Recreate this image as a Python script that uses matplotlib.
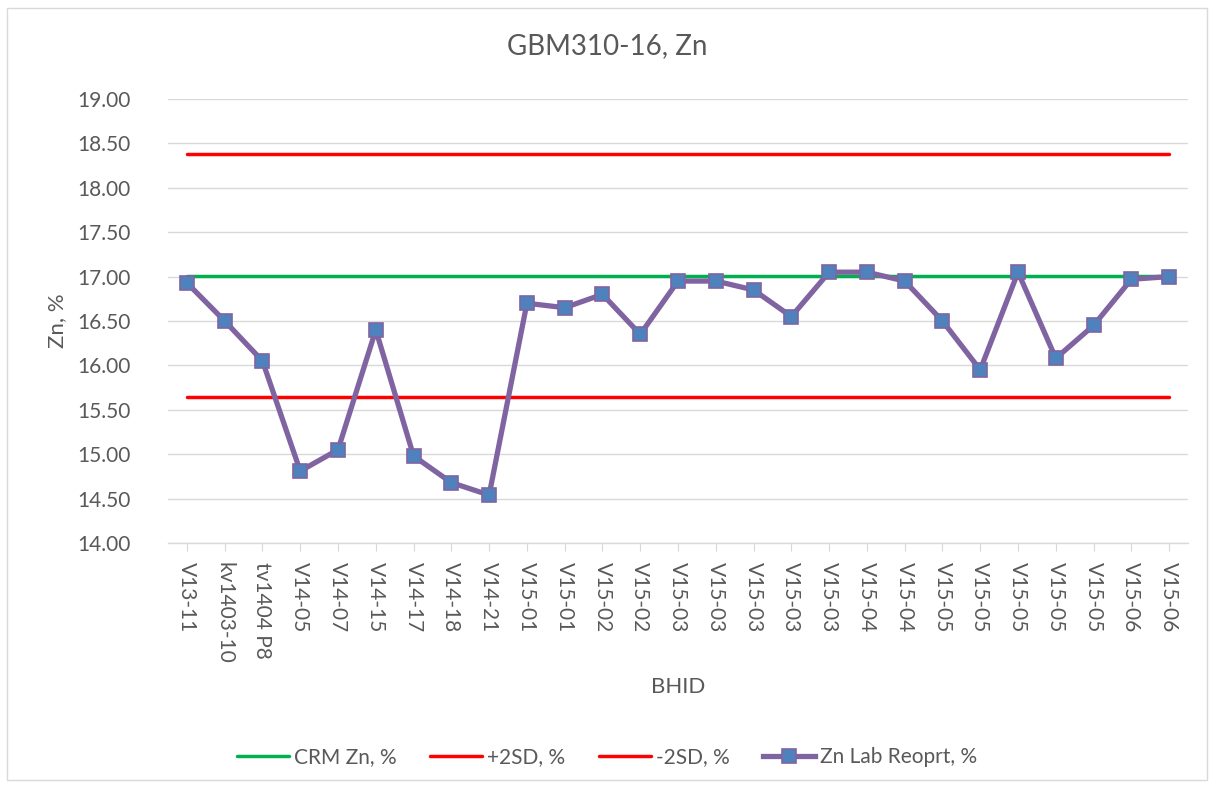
import matplotlib.pyplot as plt
from matplotlib.patches import Rectangle

plt.rcParams['font.family'] = ['Lato', 'DejaVu Sans']

bhid = ['V13-11', 'kv1403-10', 'tv1404 P8', 'V14-05', 'V14-07', 'V14-15', 'V14-17',
        'V14-18', 'V14-21', 'V15-01', 'V15-01', 'V15-02', 'V15-02', 'V15-03', 'V15-03',
        'V15-03', 'V15-03', 'V15-03', 'V15-04', 'V15-04', 'V15-05', 'V15-05', 'V15-05',
        'V15-05', 'V15-05', 'V15-06', 'V15-06']
zn_lab = [16.93, 16.50, 16.05, 14.81, 15.05, 16.40, 14.98, 14.68, 14.54, 16.70, 16.65,
          16.80, 16.35, 16.95, 16.95, 16.85, 16.55, 17.05, 17.05, 16.95, 16.50, 15.95,
          17.05, 16.08, 16.45, 16.97, 17.00]
crm = 17.01
plus_2sd = 18.38
minus_2sd = 15.64

grey = '#595959'
x = list(range(len(bhid)))

fig = plt.figure(figsize=(12.14, 7.89), dpi=100)
fig.patches.append(Rectangle((0.006, 0.012), 0.988, 0.978, transform=fig.transFigure,
                             fill=False, edgecolor='#d9d9d9', linewidth=1))
ax = fig.add_axes([0.1384, 0.3118, 0.8402, 0.5627])

ax.plot(x, [crm] * len(x), color='#00b050', lw=2.5, label='CRM Zn, %', solid_capstyle='round')
ax.plot(x, [plus_2sd] * len(x), color='#ff0000', lw=2.5, label='+2SD, %', solid_capstyle='round')
ax.plot(x, [minus_2sd] * len(x), color='#ff0000', lw=2.5, label='-2SD, %', solid_capstyle='round')
ax.plot(x, zn_lab, color='#8064a2', lw=3.8, marker='s', markersize=10,
        markerfacecolor='#4f81bd', markeredgecolor='#8064a2', markeredgewidth=1.2,
        label='Zn Lab Reoprt, %')

ax.set_xlim(-0.5, len(x) - 0.5)
ax.set_ylim(14, 19)
ax.set_yticks([14 + 0.5 * i for i in range(11)])
ax.set_yticklabels(['%.2f' % (14 + 0.5 * i) for i in range(11)])
ax.set_xticks(x)
ax.set_xticklabels(bhid, rotation=-90, va='top', ha='center')
ax.grid(axis='y', color='#d9d9d9', lw=1)
ax.set_axisbelow(True)
for s in ['left', 'right', 'top']:
    ax.spines[s].set_visible(False)
ax.spines['bottom'].set_color('#d9d9d9')
ax.spines['bottom'].set_linewidth(1)
ax.tick_params(axis='y', length=0, labelsize=15, labelcolor=grey, pad=27)
ax.tick_params(axis='x', length=6, color='#d9d9d9', labelsize=15, labelcolor=grey, pad=8)
for lab in ax.get_yticklabels():
    lab.set_horizontalalignment('right')

fig.text(0.5, 1 - 46 / 789, 'GBM310-16, Zn', fontsize=20, color=grey, ha='center', va='center')
ax.set_xlabel('BHID', fontsize=16, color=grey)
ax.xaxis.set_label_coords(0.5, -0.324)
ax.xaxis.label.set_va('center')
ax.set_ylabel('Zn, %', fontsize=16, color=grey)
ax.yaxis.set_label_coords(-0.109, 0.5)
ax.yaxis.label.set_va('center')

fig.legend(loc='center', bbox_to_anchor=(0.5, 0.0406), ncol=4, frameon=False,
           fontsize=15, labelcolor=grey, handlelength=2.5, columnspacing=1.6,
           handletextpad=0.25)

fig.savefig('out.png', dpi=100)
